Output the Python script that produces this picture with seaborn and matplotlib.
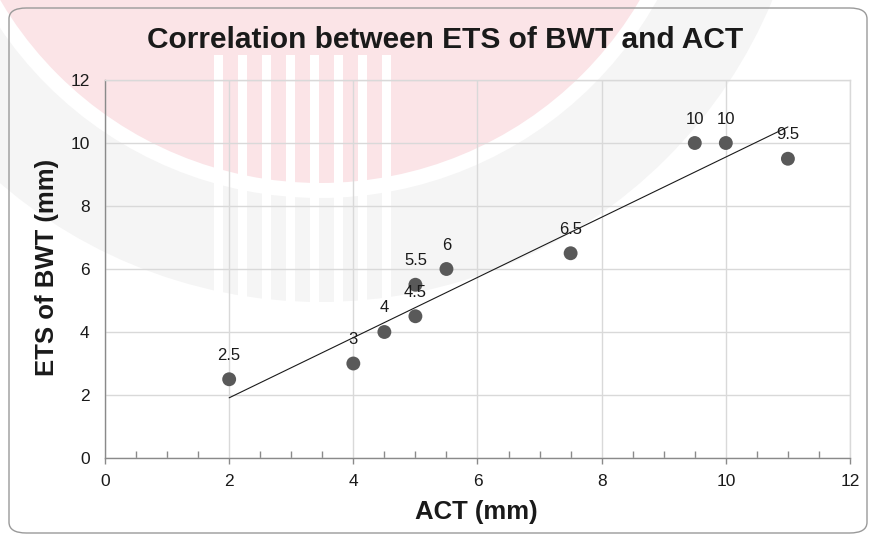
import numpy as np
import pandas as pd
import seaborn as sns
import matplotlib
matplotlib.use("Agg")
import matplotlib.pyplot as plt
from matplotlib.patches import FancyBboxPatch, Ellipse, Rectangle
from matplotlib.ticker import MultipleLocator

# ---- data ----
act = [2, 4, 4.5, 5, 5, 5.5, 7.5, 9.5, 10, 11]
ets = [2.5, 3, 4, 4.5, 5.5, 6, 6.5, 10, 10, 9.5]
point_labels = ["2.5", "3", "4", "4.5", "5.5", "6", "6.5", "10", "10", "9.5"]
x_ticks = [0, 2, 4, 6, 8, 10, 12]
y_ticks = [0, 2, 4, 6, 8, 10, 12]
title = "Correlation between ETS of BWT and ACT"
x_label = "ACT (mm)"
y_label = "ETS of BWT (mm)"

df = pd.DataFrame({"ACT": act, "ETS": ets, "label": point_labels})

sns.set_theme(style="white")
plt.rcParams["font.family"] = ["Liberation Sans", "DejaVu Sans"]

W, H = 870, 540
fig = plt.figure(figsize=(W / 100, H / 100), dpi=100)
fig.patch.set_facecolor("white")


def fx(px):
    return px / W


def fy(py):
    return 1 - py / H


# ---- faint watermark in the background (decoration only) ----
cx, cy = 320, -188
layers = [(490, "#f5f5f5"), (386, "white"), (371, "#fbe4e7")]
for r, c in layers:
    fig.patches.append(Ellipse((fx(cx), fy(cy)), 2 * r / W, 2 * r / H,
                               transform=fig.transFigure, facecolor=c,
                               edgecolor="none", zorder=0))
for sx in range(214, 400, 24):
    fig.patches.append(Rectangle((fx(sx), fy(305)), 9 / W, 250 / H, transform=fig.transFigure,
                                 facecolor="white", edgecolor="none", zorder=0))

# ---- rounded chart border ----
fig.patches.append(FancyBboxPatch((fx(9), fy(533)), 858 / W, 525 / H,
                                  boxstyle="round,pad=0,rounding_size=0.02",
                                  transform=fig.transFigure, facecolor="none",
                                  edgecolor="#9a9a9a", linewidth=1.0, zorder=1))

ax = fig.add_axes([fx(105), fy(458), (850 - 105) / W, (458 - 80) / H])
ax.set_facecolor("none")
ax.set_zorder(3)

# scatter points
sns.scatterplot(data=df, x="ACT", y="ETS", ax=ax, color="#595959", s=100,
                edgecolor="none", zorder=4, legend=False)

# linear trendline through origin (least squares)
xa = np.asarray(act, dtype=float)
ya = np.asarray(ets, dtype=float)
slope = (xa * ya).sum() / (xa * xa).sum()
x_line = np.array([xa.min(), xa.max()])
sns.lineplot(x=x_line, y=slope * x_line, ax=ax, color="#1a1a1a", linewidth=0.8, zorder=3)

# data labels
for xv, yv, lab in zip(act, ets, point_labels):
    ax.annotate(lab, (xv, yv), xytext=(0, 24), textcoords="offset pixels",
                ha="center", va="center", fontsize=12, color="#1a1a1a", zorder=5)

ax.set_xlim(0, 12)
ax.set_ylim(0, 12)
ax.set_xticks(x_ticks)
ax.set_yticks(y_ticks)
ax.xaxis.set_minor_locator(MultipleLocator(0.5))
ax.grid(True, which="major", color="#d9d9d9", linewidth=1.0, zorder=1)
ax.set_axisbelow(True)

for s in ("left", "bottom"):
    ax.spines[s].set_color("#8a8a8a")
    ax.spines[s].set_linewidth(1.0)
for s in ("top", "right"):
    ax.spines[s].set_color("#d9d9d9")
    ax.spines[s].set_linewidth(1.0)

ax.tick_params(axis="x", which="major", direction="out", length=4, width=1,
               color="#8a8a8a", labelsize=12.5, pad=7.5, labelcolor="#1a1a1a", bottom=True)
ax.tick_params(axis="x", which="minor", direction="in", length=5, width=1,
               color="#8a8a8a", bottom=True)
ax.tick_params(axis="y", which="major", length=0, labelsize=12.5, pad=11, labelcolor="#1a1a1a")

ax.set_xlabel("")
ax.set_ylabel("")
fig.text(fx(476), fy(512), x_label, ha="center", va="center", fontsize=18.5,
         fontweight="bold", color="#1a1a1a")
fig.text(fx(47), fy(267), y_label, ha="center", va="center", rotation=90, fontsize=18.5,
         fontweight="bold", color="#1a1a1a")
fig.text(fx(445), fy(40), title, ha="center", va="center", fontsize=21.5,
         fontweight="bold", color="#1a1a1a")

fig.savefig("out.png", dpi=100)
